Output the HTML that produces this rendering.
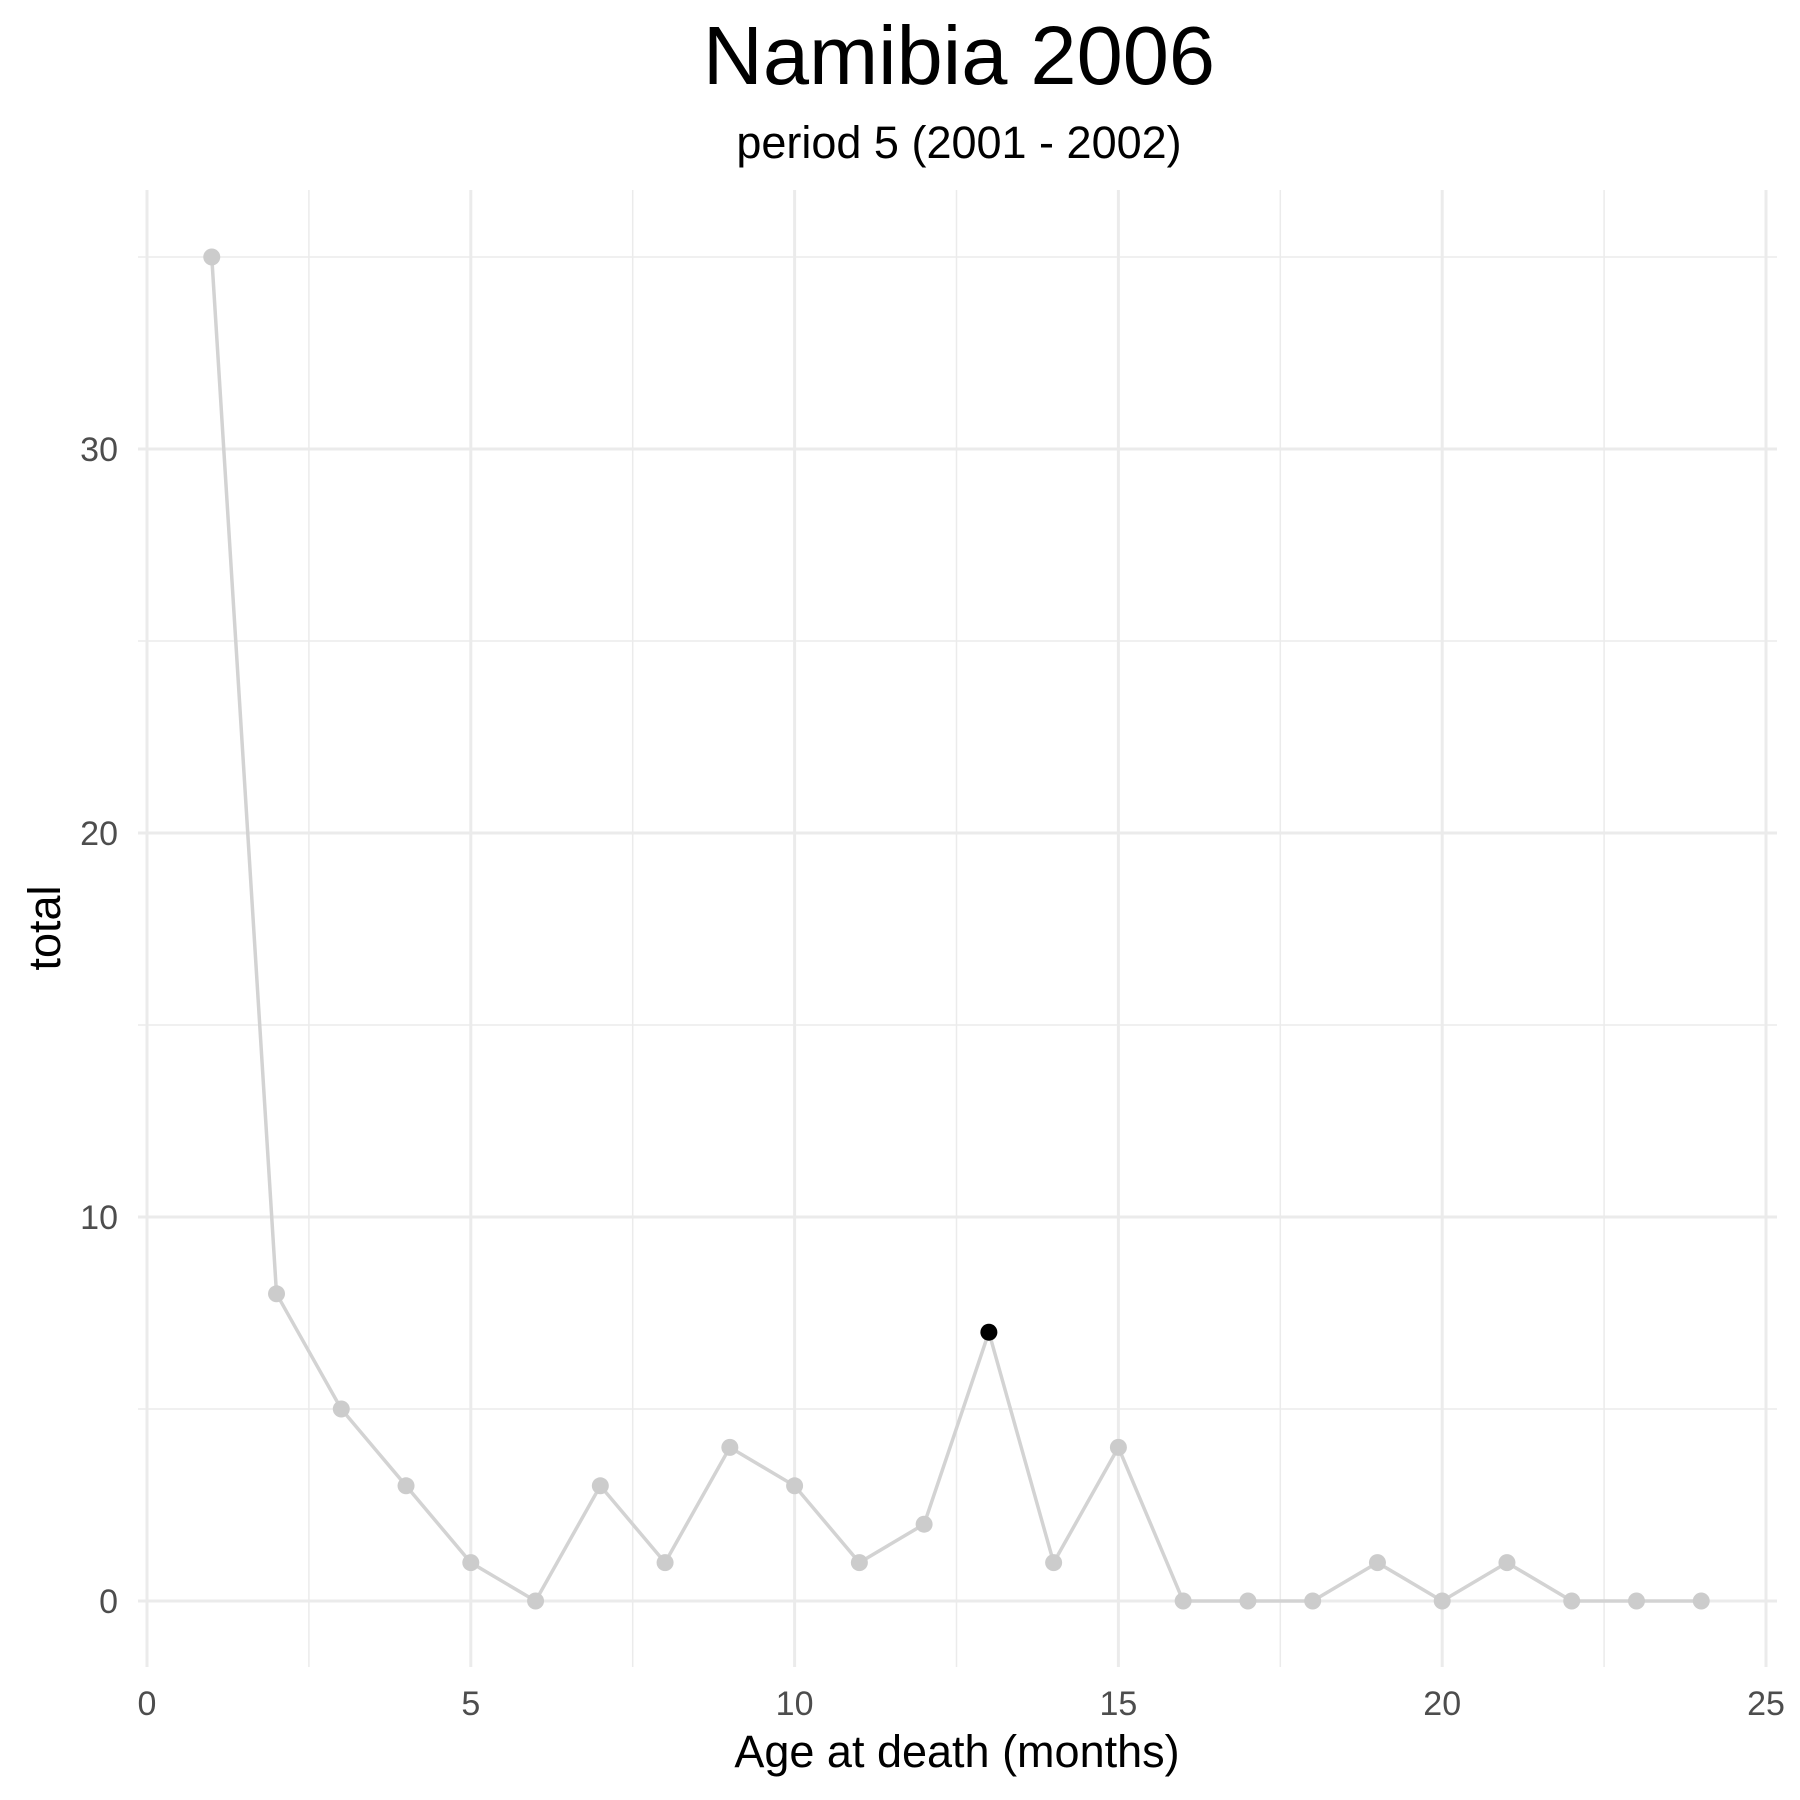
<!DOCTYPE html>
<html><head><meta charset="utf-8"><style>
html,body{margin:0;padding:0;background:#fff;}
svg{display:block;font-family:"Liberation Sans",Arial,sans-serif;}
</style></head><body>
<svg id="chart" width="1800" height="1800" viewBox="0 0 1800 1800" xmlns="http://www.w3.org/2000/svg">
<text x="959" y="84" font-size="83" text-anchor="middle" fill="#000">Namibia 2006</text>
<text x="959" y="158" font-size="45" text-anchor="middle" fill="#000">period 5 (2001 - 2002)</text>
<g id="grid"></g><g id="series"></g><g id="axes"></g>
<text x="957" y="1767" font-size="45" text-anchor="middle" fill="#000">Age at death (months)</text>
<text transform="translate(60,928) rotate(-90)" font-size="45" text-anchor="middle" fill="#000">total</text>
</svg>
<script>
const months = [1,2,3,4,5,6,7,8,9,10,11,12,13,14,15,16,17,18,19,20,21,22,23,24];
const totals = [35,8,5,3,1,0,3,1,4,3,1,2,7,1,4,0,0,0,1,0,1,0,0,0];
const highlightMonth = 13;
const xTicks = [0,5,10,15,20,25];
const yTicks = [0,10,20,30];
const xMinor = [2.5,7.5,12.5,17.5,22.5];
const yMinor = [5,15,25,35];
const NS="http://www.w3.org/2000/svg";
const L=138,R=1777,T=190,B=1667;
const sx=v=>147+v*64.76;
const sy=v=>1601-v*38.4;
function mk(tag,attrs,parent){const e=document.createElementNS(NS,tag);for(const k in attrs)e.setAttribute(k,attrs[k]);parent.appendChild(e);return e;}
const grid=document.getElementById('grid'),series=document.getElementById('series'),axes=document.getElementById('axes');
xMinor.forEach(v=>{const e=mk('line',{x1:sx(v),x2:sx(v),y1:T,y2:B,stroke:'#ebebeb','stroke-width':1.5},grid);

});
yMinor.forEach(v=>{const e=mk('line',{x1:L,x2:R,y1:sy(v),y2:sy(v),stroke:'#ebebeb','stroke-width':1.5},grid);

});
xTicks.forEach(v=>{const e=mk('line',{x1:sx(v),x2:sx(v),y1:T,y2:B,stroke:'#ebebeb','stroke-width':3},grid);


const t=mk('text',{x:sx(v),y:1715,'font-size':34,'text-anchor':'middle',fill:'#4d4d4d'},axes);t.textContent=v;

});
yTicks.forEach(v=>{const e=mk('line',{x1:L,x2:R,y1:sy(v),y2:sy(v),stroke:'#ebebeb','stroke-width':3},grid);


const t=mk('text',{x:118,y:sy(v)+12,'font-size':34,'text-anchor':'end',fill:'#4d4d4d'},axes);t.textContent=v;

});
const pts=months.map((m,i)=>sx(m)+','+sy(totals[i])).join(' ');
const line=mk('polyline',{points:pts,fill:'none',stroke:'#d3d3d3','stroke-width':3.5},series);


months.forEach((m,i)=>{const hl=m===highlightMonth;
const c=mk('circle',{cx:sx(m),cy:sy(totals[i]),r:8.5,fill:hl?'#000':'#cccccc'},series);

});
</script>
</body></html>
